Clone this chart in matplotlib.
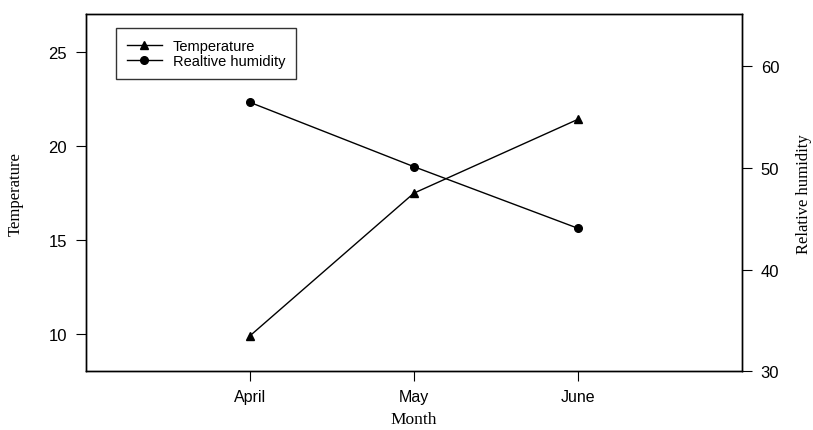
import matplotlib
matplotlib.use("Agg")
import matplotlib.pyplot as plt

months = ["April", "May", "June"]
temperature = [9.88, 17.48, 21.41]
humidity = [56.45, 50.12, 44.06]

sans = ["Liberation Sans", "DejaVu Sans"]
serif = ["Liberation Serif", "DejaVu Serif"]

fig = plt.figure(figsize=(8.13, 4.31), dpi=100)
ax = fig.add_axes([0.1054, 0.1362, 0.8073, 0.8283])
ax2 = ax.twinx()

xs = [1, 2, 3]
l1, = ax.plot(xs, temperature, color="black", lw=1, marker="^", ms=6, label="Temperature")
l2, = ax2.plot(xs, humidity, color="black", lw=1, marker="o", ms=5.5, label="Realtive humidity")

ax.set_xlim(0, 4)
ax.set_ylim(8, 27)
ax2.set_ylim(30, 65.1)
ax.set_xticks(xs)
ax.set_xticklabels(months, fontfamily=sans, fontsize=11.5)
ax.set_yticks([10, 15, 20, 25])
ax2.set_yticks([30, 40, 50, 60])
for a in (ax, ax2):
    for lab in a.get_yticklabels():
        lab.set_fontfamily(sans)
        lab.set_fontsize(12)
    a.tick_params(axis="y", direction="out", length=7, width=0.8, pad=6.5)
    for s in a.spines.values():
        s.set_linewidth(1)
ax.tick_params(axis="x", direction="out", length=7, width=0.8, pad=5.5)

ax.set_xlabel("Month", fontfamily=serif, fontsize=12.5, labelpad=5)
ax.set_ylabel("Temperature", fontfamily=serif, fontsize=12, labelpad=18)
ax2.set_ylabel("Relative humidity", fontfamily=serif, fontsize=12, labelpad=12, rotation=90)

leg = ax.legend(handles=[l1, l2], loc="upper left", bbox_to_anchor=(116 / 813, 1 - 29 / 431),
                bbox_transform=fig.transFigure, prop={"family": sans, "size": 10.5},
                frameon=True, fancybox=False, edgecolor="black", borderpad=0.75,
                handlelength=2.4, handletextpad=0.75, labelspacing=0.1, borderaxespad=0)
leg.get_frame().set_linewidth(1)

fig.savefig("out.png", dpi=100)
